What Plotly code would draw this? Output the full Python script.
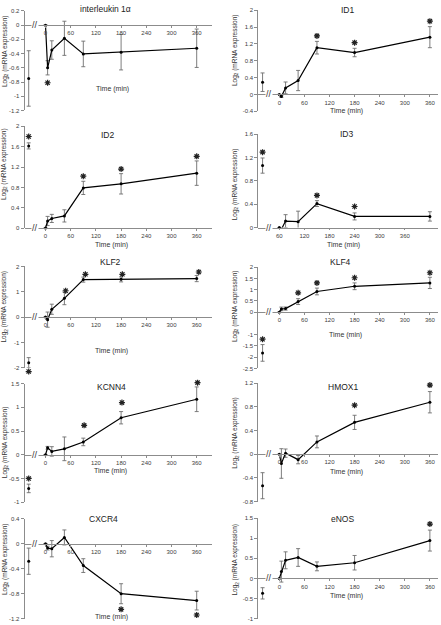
import plotly.graph_objects as go

W, H = 441, 625

# ---------------- data ----------------
times = [0, 5, 15, 45, 90, 180, 360]
ctrl_t = -40

il1a_mean = [0, -0.60, -0.35, -0.185, -0.405, -0.38, -0.325]
il1a_err = [0, 0.10, 0.13, 0.24, 0.18, 0.25, 0.27]
il1a_ctrl = [-0.75]
il1a_ctrl_err = [0.39]
il1a_star_t = [5]
il1a_star_y = [-0.81]

id1_mean = [0, -0.05, 0.155, 0.33, 1.11, 0.995, 1.36]
id1_err = [0, 0.02, 0.14, 0.24, 0.15, 0.10, 0.25]
id1_ctrl = [0.29]
id1_ctrl_err = [0.22]
id1_star_t = [90, 180, 360]
id1_star_y = [1.39, 1.23, 1.74]

id2_mean = [0, 0.14, 0.19, 0.24, 0.79, 0.87, 1.08]
id2_err = [0, 0.09, 0.08, 0.12, 0.13, 0.20, 0.24]
id2_ctrl = [1.615]
id2_ctrl_err = [0.06]
id2_star_t = [ctrl_t, 90, 180, 360]
id2_star_y = [1.80, 1.02, 1.16, 1.41]

id3_mean = [0, -0.03, 0.11, 0.10, 0.41, 0.19, 0.19]
id3_err = [0, 0.02, 0.11, 0.18, 0.05, 0.06, 0.08]
id3_ctrl = [1.06]
id3_ctrl_err = [0.13]
id3_star_t = [ctrl_t, 90, 180]
id3_star_y = [1.29, 0.55, 0.36]

klf2_mean = [0, -0.10, 0.31, 0.74, 1.48, 1.49, 1.52]
klf2_err = [0, 0.30, 0.20, 0.25, 0.10, 0.10, 0.12]
klf2_ctrl = [-1.80]
klf2_ctrl_err = [0.20]
klf2_star_t = [ctrl_t, 48, 95, 183, 365]
klf2_star_y = [-2.15, 1.04, 1.69, 1.69, 1.78]

klf4_mean = [0, 0.146, 0.16, 0.47, 0.92, 1.15, 1.30]
klf4_err = [0, 0.08, 0.07, 0.13, 0.15, 0.15, 0.25]
klf4_ctrl = [-1.81]
klf4_ctrl_err = [0.37]
klf4_star_t = [ctrl_t, 45, 90, 180, 360]
klf4_star_y = [-1.20, 0.86, 1.30, 1.53, 1.75]

kcnn4_mean = [0, 0.146, 0.07, 0.125, 0.27, 0.78, 1.17]
kcnn4_err = [0, 0.03, 0.10, 0.25, 0.08, 0.13, 0.26]
kcnn4_ctrl = [-0.71]
kcnn4_ctrl_err = [0.09]
kcnn4_star_t = [ctrl_t, 92, 182, 362]
kcnn4_star_y = [-0.50, 0.62, 1.10, 1.52]

hmox1_mean = [0, -0.155, 0.02, -0.09, 0.21, 0.54, 0.88]
hmox1_err = [0, 0.25, 0.07, 0.07, 0.10, 0.12, 0.18]
hmox1_ctrl = [-0.53]
hmox1_ctrl_err = [0.22]
hmox1_star_t = [180, 360]
hmox1_star_y = [0.83, 1.17]

cxcr4_mean = [0, -0.07, -0.08, 0.10, -0.35, -0.80, -0.91]
cxcr4_err = [0, 0.03, 0.13, 0.12, 0.11, 0.16, 0.15]
cxcr4_ctrl = [-0.28]
cxcr4_ctrl_err = [0.21]
cxcr4_star_t = [180, 360]
cxcr4_star_y = [-1.05, -1.14]

enos_mean = [0, 0.17, 0.45, 0.52, 0.30, 0.39, 0.94]
enos_err = [0, 0.26, 0.21, 0.22, 0.11, 0.18, 0.26]
enos_ctrl = [-0.37]
enos_ctrl_err = [0.14]
enos_star_t = [360]
enos_star_y = [1.35]

time_tick_vals = [0, 60, 120, 180, 240, 300, 360]
time_tick_text = ["0", "60", "120", "180", "240", "300", "360"]
id3_tick_vals = [0, 60, 120, 180, 240, 300]
id3_tick_text = ["60", "120", "180", "240", "300", "360"]

il1a_yticks = [0.2, 0, -0.2, -0.4, -0.6, -0.8, -1, -1.2]
id1_yticks = [2, 1.6, 1.2, 0.8, 0.4, 0, -0.4]
id2_yticks = [2, 1.6, 1.2, 0.8, 0.4, 0]
id3_yticks = [1.6, 1.2, 0.8, 0.4, 0]
klf2_yticks = [2, 1, 0, -1, -2]
klf4_yticks = [2, 1.5, 1, 0.5, 0, -1, -1.5, -2, -2.5]
kcnn4_yticks = [1.5, 1, 0.5, 0, -0.5, -1]
hmox1_yticks = [1.2, 0.8, 0.4, 0, -0.4, -0.8]
cxcr4_yticks = [0.4, 0, -0.4, -0.8, -1.2]
enos_yticks = [1.5, 1, 0.5, 0, -0.5, -1]

# ---------------- layout geometry (pixels) ----------------
LEFT = dict(ax_l=24.5, ax_r=212, t0=45.5, ppm=0.42, brk=35, ytitle_x=4.5)
RIGHT = dict(ax_l=258.3, ax_r=438, t0=279.3, ppm=0.4183, brk=268.5, ytitle_x=235)

panels = [
    dict(name="interleukin 1α", col=LEFT, mean=il1a_mean, err=il1a_err, ctrl=il1a_ctrl, cerr=il1a_ctrl_err,
         st=il1a_star_t, sy=il1a_star_y, yt=il1a_yticks, ytop=(0.2, 8), ybot=(-1.2, 108.5),
         title=(105, 6), tlab=(112, 87), ytc=49),
    dict(name="ID1", col=RIGHT, mean=id1_mean, err=id1_err, ctrl=id1_ctrl, cerr=id1_ctrl_err,
         st=id1_star_t, sy=id1_star_y, yt=id1_yticks, ytop=(2, 7.3), ybot=(-0.4, 109.3),
         title=(347.7, 6.7), tlab=(346.7, 109.5), ytc=47.5),
    dict(name="ID2", col=LEFT, mean=id2_mean, err=id2_err, ctrl=id2_ctrl, cerr=id2_ctrl_err,
         st=id2_star_t, sy=id2_star_y, yt=id2_yticks, ytop=(2, 124.5), ybot=(0, 227.3),
         title=(108, 133), tlab=(111.7, 244), ytc=163),
    dict(name="ID3", col=RIGHT, mean=id3_mean, err=id3_err, ctrl=id3_ctrl, cerr=id3_ctrl_err,
         st=id3_star_t, sy=id3_star_y, yt=id3_yticks, ytop=(1.6, 132.3), ybot=(0, 226.7),
         title=(346.7, 132.3), tlab=(343.3, 244), ytc=183, xt=(id3_tick_vals, id3_tick_text)),
    dict(name="KLF2", col=LEFT, mean=klf2_mean, err=klf2_err, ctrl=klf2_ctrl, cerr=klf2_ctrl_err,
         st=klf2_star_t, sy=klf2_star_y, yt=klf2_yticks, ytop=(2, 266), ybot=(-2, 368.3),
         title=(110, 261.7), tlab=(111.7, 351.7), ytc=307),
    dict(name="KLF4", col=RIGHT, mean=klf4_mean, err=klf4_err, ctrl=klf4_ctrl, cerr=klf4_ctrl_err,
         st=klf4_star_t, sy=klf4_star_y, yt=klf4_yticks, ytop=(2, 266.7), ybot=(-2.5, 369),
         title=(340, 261.7), tlab=(345, 335), ytc=306),
    dict(name="KCNN4", col=LEFT, mean=kcnn4_mean, err=kcnn4_err, ctrl=kcnn4_ctrl, cerr=kcnn4_ctrl_err,
         st=kcnn4_star_t, sy=kcnn4_star_y, yt=kcnn4_yticks, ytop=(1.5, 384.3), ybot=(-1, 504),
         title=(111.7, 387.3), tlab=(110.7, 472.5), ytc=444),
    dict(name="HMOX1", col=RIGHT, mean=hmox1_mean, err=hmox1_err, ctrl=hmox1_ctrl, cerr=hmox1_ctrl_err,
         st=hmox1_star_t, sy=hmox1_star_y, yt=hmox1_yticks, ytop=(1.2, 384), ybot=(-0.8, 503.5),
         title=(343.3, 387.3), tlab=(346.7, 473.5), ytc=434),
    dict(name="CXCR4", col=LEFT, mean=cxcr4_mean, err=cxcr4_err, ctrl=cxcr4_ctrl, cerr=cxcr4_ctrl_err,
         st=cxcr4_star_t, sy=cxcr4_star_y, yt=cxcr4_yticks, ytop=(0.4, 520.7), ybot=(-1.2, 621.7),
         title=(103.3, 520.7), tlab=(111.7, 619.5), ytc=562),
    dict(name="eNOS", col=RIGHT, mean=enos_mean, err=enos_err, ctrl=enos_ctrl, cerr=enos_ctrl_err,
         st=enos_star_t, sy=enos_star_y, yt=enos_yticks, ytop=(1.5, 520), ybot=(-1, 621.7),
         title=(342.7, 520.7), tlab=(346.7, 599), ytc=562),
]

FONT = "Liberation Sans Narrow, Arial Narrow, Liberation Sans, sans-serif"
AXC = "#8c8c8c"
TXT = "#404040"
STAR_EXT = 8  # px of extra room for the invisible star axis


def fmt(v):
    return "%g" % v


fig = go.Figure()
annotations = []
layout = {}
n = len(panels)

for i, p in enumerate(panels, start=1):
    c = p["col"]
    xa, ya = ("x%d" % i, "y%d" % i) if i > 1 else ("x", "y")
    xk, yk = ("xaxis%d" % i, "yaxis%d" % i) if i > 1 else ("xaxis", "yaxis")
    sa, sk = "y%d" % (n + i), "yaxis%d" % (n + i)
    (yt_v, yt_px), (yb_v, yb_px) = p["ytop"], p["ybot"]
    ppy = (yb_px - yt_px) / (yt_v - yb_v)
    zero_px = yt_px + yt_v * ppy

    x_rng = [(c["ax_l"] - c["t0"]) / c["ppm"], (c["ax_r"] - c["t0"]) / c["ppm"]]
    tv, tt = p.get("xt", (time_tick_vals, time_tick_text))

    layout[xk] = dict(domain=[c["ax_l"] / W, c["ax_r"] / W], range=x_rng, anchor="free",
                      position=1 - zero_px / H, showline=True, linecolor=AXC, linewidth=0.8,
                      showgrid=False, zeroline=False, ticks="outside", ticklen=2, tickcolor=AXC,
                      tickvals=tv, ticktext=tt, tickfont=dict(size=6, color=TXT, family=FONT))
    layout[yk] = dict(domain=[1 - yb_px / H, 1 - yt_px / H], range=[yb_v, yt_v], anchor=xa,
                      showline=True, linecolor=AXC, linewidth=0.8, showgrid=False, zeroline=False,
                      ticks="outside", ticklen=3, tickcolor=AXC, tickvals=p["yt"],
                      ticktext=[fmt(v) for v in p["yt"]],
                      tickfont=dict(size=6, color=TXT, family=FONT))
    # invisible twin y axis with the same scale but a little more room, for the stars
    et = min(STAR_EXT, yt_px)
    eb = min(STAR_EXT, H - yb_px)
    layout[sk] = dict(domain=[1 - (yb_px + eb) / H, 1 - (yt_px - et) / H],
                      range=[yb_v - eb / ppy, yt_v + et / ppy], anchor=xa,
                      visible=False, showgrid=False, zeroline=False)

    # control point
    fig.add_trace(go.Scatter(x=[ctrl_t], y=p["ctrl"], xaxis=xa, yaxis=ya, mode="markers",
                             marker=dict(color="black", size=3),
                             error_y=dict(type="data", array=p["cerr"], color="#6e6e6e",
                                          thickness=0.9, width=2),
                             cliponaxis=False, showlegend=False, hoverinfo="skip"))
    # time course
    fig.add_trace(go.Scatter(x=times, y=p["mean"], xaxis=xa, yaxis=ya, mode="lines+markers",
                             line=dict(color="black", width=1.2),
                             marker=dict(color="black", size=3),
                             error_y=dict(type="data", array=p["err"], color="#6e6e6e",
                                          thickness=0.9, width=2),
                             cliponaxis=False, showlegend=False, hoverinfo="skip"))
    # significance stars
    fig.add_trace(go.Scatter(x=p["st"], y=p["sy"], xaxis=xa, yaxis=sa, mode="markers",
                             marker=dict(symbol="asterisk-open", size=5, color="#222222",
                                         line=dict(color="#222222", width=1.2)),
                             cliponaxis=False, showlegend=False, hoverinfo="skip"))

    annotations.append(dict(text=p["name"], x=p["title"][0] / W, y=1 - p["title"][1] / H,
                            xref="paper", yref="paper", showarrow=False, xanchor="center",
                            yanchor="middle", font=dict(size=8.5, color="#222222", family=FONT)))
    annotations.append(dict(text="Time (min)", x=p["tlab"][0] / W, y=1 - p["tlab"][1] / H,
                            xref="paper", yref="paper", showarrow=False, xanchor="center",
                            yanchor="middle", font=dict(size=7, color="#333333", family=FONT)))
    annotations.append(dict(text="Log<sub>2</sub> (mRNA expression)", x=c["ytitle_x"] / W,
                            y=1 - p["ytc"] / H, xref="paper", yref="paper", showarrow=False,
                            textangle=-90, xanchor="center", yanchor="middle",
                            font=dict(size=6.5, color="#333333", family=FONT)))
    annotations.append(dict(text="//", x=c["brk"] / W, y=1 - zero_px / H, xref="paper",
                            yref="paper", showarrow=False, xanchor="center", yanchor="middle",
                            bgcolor="white", borderpad=0,
                            font=dict(size=9, color="#333333", family=FONT)))

fig.update_layout(width=W, height=H, margin=dict(l=0, r=0, t=0, b=0),
                  paper_bgcolor="white", plot_bgcolor="rgba(0,0,0,0)", hovermode=False,
                  annotations=annotations, **layout)
fig.write_html("out.html", config={"displayModeBar": False},
               post_script="document.body.style.margin='0px';")
